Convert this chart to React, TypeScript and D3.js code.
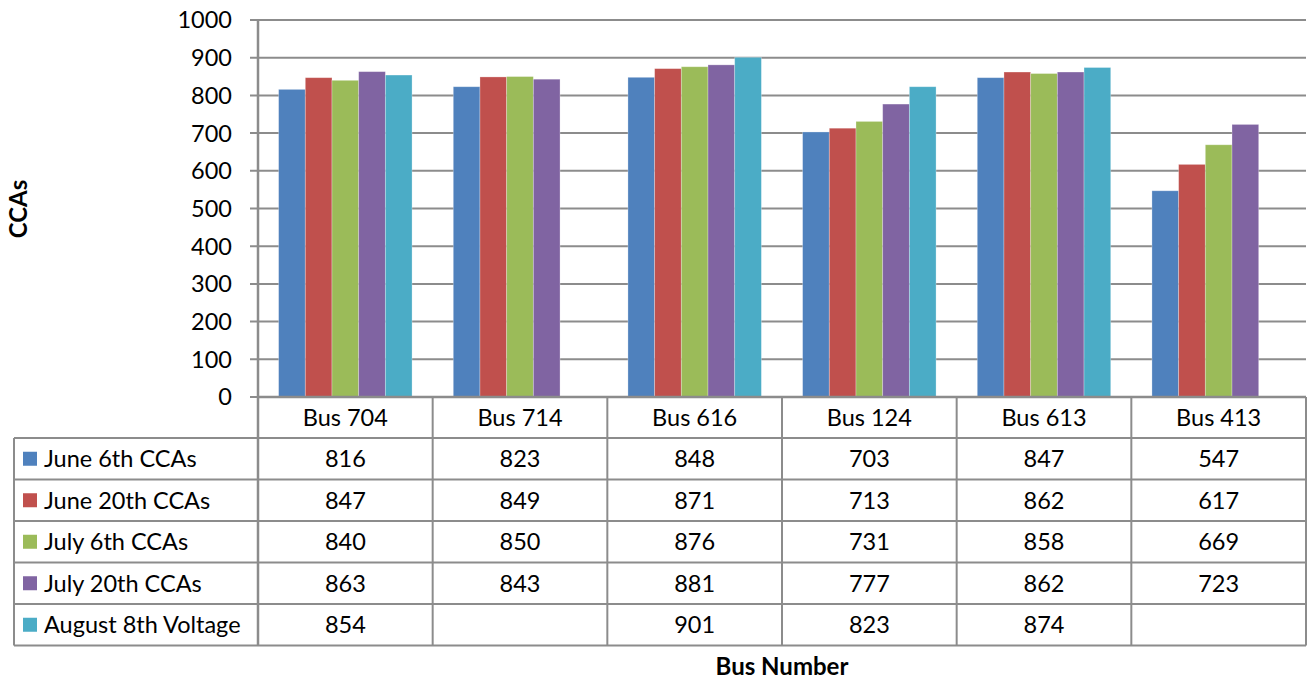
import React from "react";
import * as d3 from "d3";

const categories = ["Bus 704", "Bus 714", "Bus 616", "Bus 124", "Bus 613", "Bus 413"];
const seriesNames = ["June 6th CCAs", "June 20th CCAs", "July 6th CCAs", "July 20th CCAs", "August 8th Voltage"];
const seriesColors = ["#4F81BD", "#C0504D", "#9BBB59", "#8064A2", "#4BACC6"];
const june6 = [816, 823, 848, 703, 847, 547];
const june20 = [847, 849, 871, 713, 862, 617];
const july6 = [840, 850, 876, 731, 858, 669];
const july20 = [863, 843, 881, 777, 862, 723];
const aug8: (number | null)[] = [854, null, 901, 823, 874, null];
const yTicks = [0, 100, 200, 300, 400, 500, 600, 700, 800, 900, 1000];

const seriesValues: (number | null)[][] = [june6, june20, july6, july20, aug8];

export default function App() {
  const W = 1310, H = 679;
  const left = 258, right = 1306, top = 20, bottom = 397;
  const tableLeft = 14;
  const rowH = 41.5;
  const headerH = 41;
  const font = "Lato, 'Open Sans', sans-serif";
  const grid = "#8C8C8C";
  const fs = 23.5;

  const x = d3.scaleBand<string>().domain(categories).range([left, right]).paddingInner(0).paddingOuter(0);
  const y = d3.scaleLinear().domain([0, 1000]).range([bottom, top]);
  const groupPad = x.bandwidth() * 0.118;
  const xs = d3.scaleBand<number>().domain(d3.range(seriesNames.length)).range([0, x.bandwidth() - 2 * groupPad]).padding(0);

  const tableTop = bottom;
  const rowsTop = tableTop + headerH;
  const tableBottom = rowsTop + rowH * seriesNames.length;

  return (
    <svg width={W} height={H} style={{ position: "absolute", left: 0, top: 0, background: "#fff" }}>
      {/* gridlines */}
      {yTicks.map((t) => (
        <line key={"g" + t} x1={left - 8} x2={right} y1={y(t)} y2={y(t)} stroke={grid} strokeWidth={2} />
      ))}
      {/* tick labels */}
      {yTicks.map((t) => (
        <text key={"t" + t} x={232} y={y(t)} dy="0.36em" textAnchor="end" fontFamily={font} fontSize={fs} fill="#000">
          {t}
        </text>
      ))}
      {/* bars */}
      {categories.map((c, ci) =>
        seriesValues.map((vals, si) => {
          const v = vals[ci];
          if (v == null) return null;
          const bx = (x(c) as number) + groupPad + (xs(si) as number);
          return (
            <rect key={c + si} x={bx} y={y(v)} width={xs.bandwidth()} height={bottom - y(v)} fill={seriesColors[si]} stroke="rgba(255,255,255,0.35)" strokeWidth={0.8} />
          );
        })
      )}
      {/* left axis */}
      <line x1={left} x2={left} y1={top - 1} y2={tableBottom} stroke={grid} strokeWidth={2.5} />
      {/* table lines */}
      <line x1={left} x2={right} y1={bottom} y2={bottom} stroke={grid} strokeWidth={2.5} />
      {d3.range(seriesNames.length + 1).map((i) => (
        <line key={"r" + i} x1={tableLeft} x2={right} y1={rowsTop + i * rowH} y2={rowsTop + i * rowH} stroke={grid} strokeWidth={2} />
      ))}
      <line x1={tableLeft} x2={tableLeft} y1={rowsTop} y2={tableBottom} stroke={grid} strokeWidth={2} />
      {categories.map((c) => (
        <line key={"v" + c} x1={(x(c) as number) + x.bandwidth()} x2={(x(c) as number) + x.bandwidth()} y1={bottom} y2={tableBottom} stroke={grid} strokeWidth={2} />
      ))}
      {/* header */}
      {categories.map((c) => (
        <text key={"h" + c} x={(x(c) as number) + x.bandwidth() / 2} y={tableTop + headerH / 2} dy="0.36em" textAnchor="middle" fontFamily={font} fontSize={fs} fill="#000">
          {c}
        </text>
      ))}
      {/* legend column */}
      {seriesNames.map((n, si) => {
        const cy = rowsTop + si * rowH + rowH / 2;
        return (
          <g key={"l" + n}>
            <rect x={23} y={cy - 7} width={14} height={14} fill={seriesColors[si]} />
            <text x={44} y={cy} dy="0.36em" fontFamily={font} fontSize={fs} fill="#000">
              {n}
            </text>
          </g>
        );
      })}
      {/* values */}
      {seriesValues.map((vals, si) =>
        categories.map((c, ci) => {
          const v = vals[ci];
          if (v == null) return null;
          return (
            <text key={"d" + si + ci} x={(x(c) as number) + x.bandwidth() / 2} y={rowsTop + si * rowH + rowH / 2} dy="0.36em" textAnchor="middle" fontFamily={font} fontSize={fs} fill="#000">
              {v}
            </text>
          );
        })
      )}
      {/* axis titles */}
      <text transform={`translate(27,209) rotate(-90)`} textAnchor="middle" fontFamily={font} fontSize={24} fontWeight="bold" fill="#000">
        CCAs
      </text>
      <text x={782} y={675} textAnchor="middle" fontFamily={font} fontSize={24} fontWeight="bold" fill="#000">
        Bus Number
      </text>
    </svg>
  );
}
